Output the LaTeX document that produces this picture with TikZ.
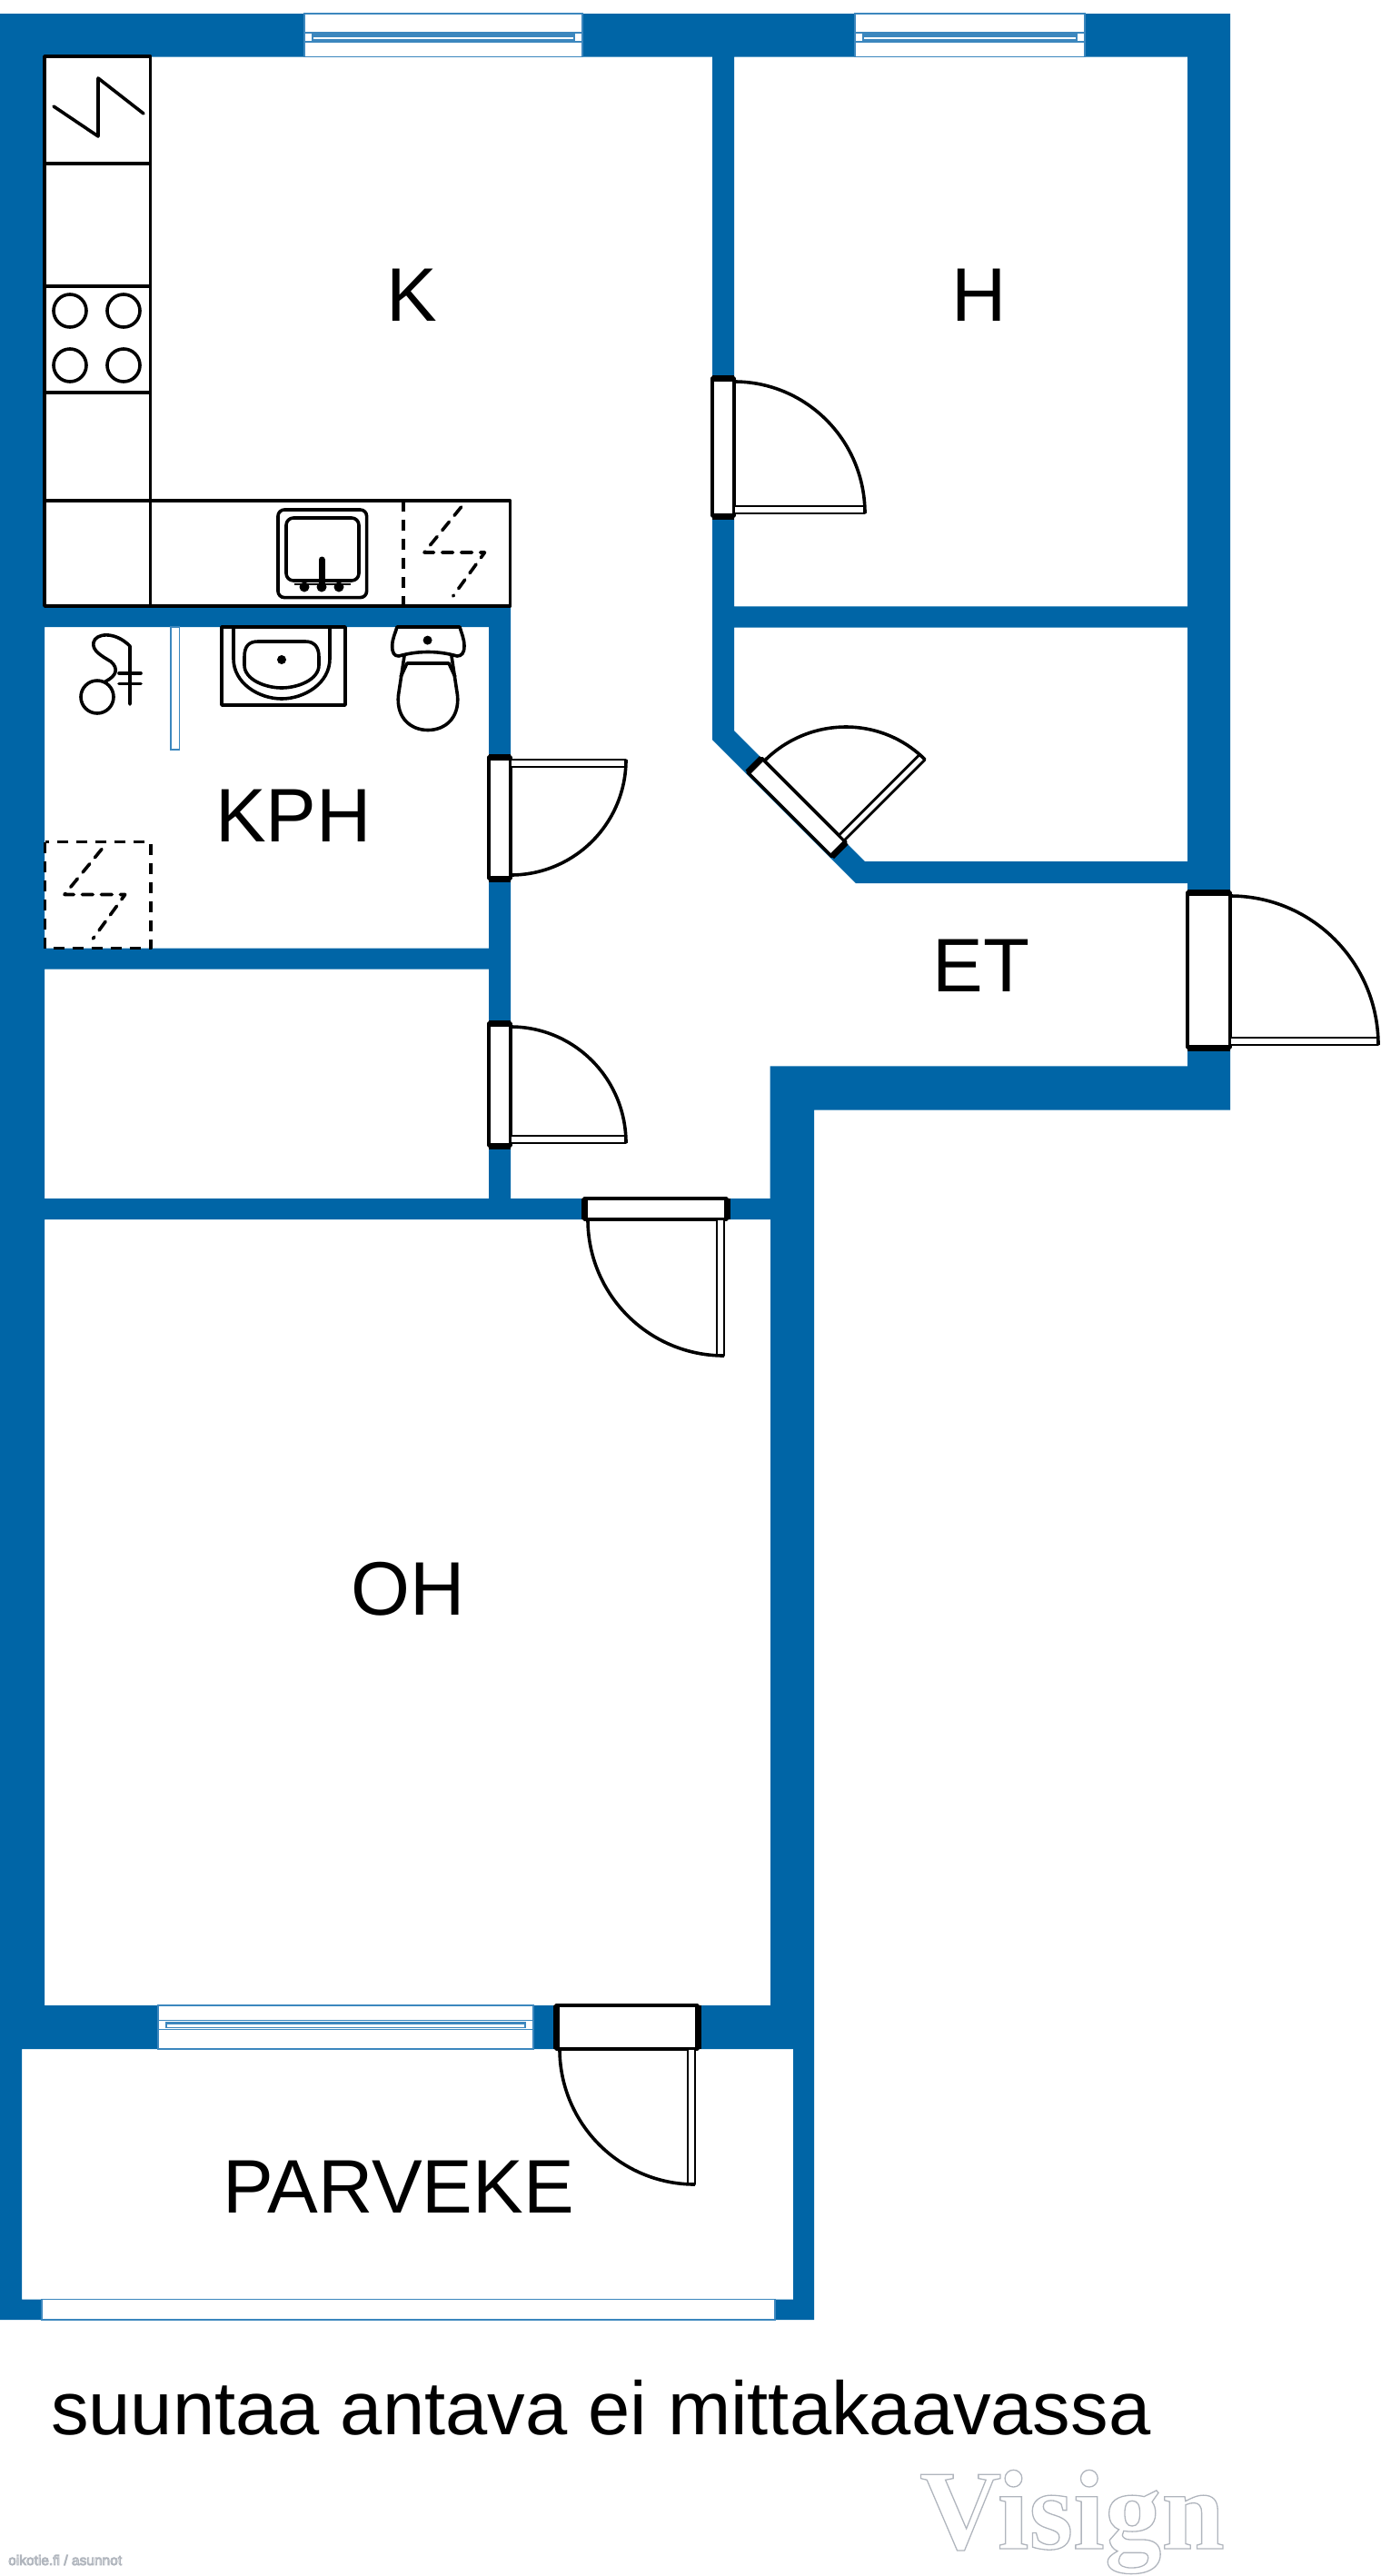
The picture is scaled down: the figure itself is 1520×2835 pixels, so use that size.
\documentclass[tikz,border=0pt]{standalone}
\usepackage{fontspec}
\setmainfont{Liberation Sans}
\newfontfamily\markfont{Liberation Serif}
\definecolor{wallblue}{RGB}{0,101,166}
\definecolor{winblue}{RGB}{60,135,190}
\newcommand{\outlined}[2]{\special{pdf:code q 1 Tr #1 w 0.69 0.71 0.74 RG}#2\special{pdf:code Q}}
\tikzset{
  fixture/.style={draw=black,line width=3.6pt,line join=round},
  dashfix/.style={fixture,line cap=round,dash pattern=on 12pt off 9pt},
  winline/.style={draw=winblue,line width=1.5pt},
  roomlabel/.style={anchor=base,inner sep=0pt,font=\fontsize{83.5}{90}\selectfont},
}
\begin{document}
\begin{tikzpicture}[x=1pt,y=-1pt]
  \useasboundingbox (0,0) rectangle (1520,2835);

  % walls: outline minus rooms
  \fill[wallblue,even odd rule]
    (0,15) -- (1354,15) -- (1354,1221.6) -- (896,1221.6) -- (896,2553) -- (0,2553) -- cycle
    (49,62.5) -- (784,62.5) -- (784,814) -- (942,972) -- (1307,972) -- (1307,1173.4) -- (847.5,1173.4)
      -- (847.5,1319) -- (562,1319) -- (562,667) -- (49,667) -- cycle % K + hall
    (808,62.5) rectangle (1307,667.4) % H
    (808,690.6) -- (1307,690.6) -- (1307,948) -- (952,948) -- (808,804) -- cycle % closet
    (49,690) rectangle (538,1043.5) % KPH
    (49,1066.7) rectangle (538,1319)
    (49,1342) rectangle (848,2207) % OH
    (24,2255) rectangle (873,2530.5); % balcony

  % windows: x1/x2/y1/y2/band centre
  \foreach \wa/\wb/\wc/\wd/\we in {335/641/15/62.5/41, 941/1194/15/62.5/41, 174/587/2207/2255/2228.7} {
    \draw[winline,fill=white] (\wa,\wc) rectangle (\wb,\wd);
    \draw[winline] (\wa,\we-5) rectangle (\wb,\we+5);
    \draw[winline,fill=white] (\wa+9,\we-3) rectangle (\wb-9,\we+3);
    \draw[winblue,line width=2.5pt] (\wa+9,\we-1.5) -- (\wb-9,\we-1.5);
  }
  \draw[winline,fill=white] (46,2530.5) rectangle (853,2553);
  \draw[winline,fill=white] (188,690) rectangle (197.4,825); % curtain

  % kitchen
  \draw[fixture] (49,62) rectangle (165.6,667);
  \foreach \ky in {180,315,432,551} {
    \draw[fixture] (49,\ky) -- (165.6,\ky);
  }
  \draw[fixture] (165.6,551) rectangle (561.6,667);
  \draw[fixture,line cap=round] (59,117) -- (108,150) -- (108,86) -- (158,125);
  \foreach \bx in {77,136} {
    \foreach \by in {342,402} {
      \draw[fixture] (\bx,\by) circle[radius=18];
    }
  }
  \draw[fixture,rounded corners=7pt] (306,561) rectangle (403.6,657.6);
  \draw[fixture,rounded corners=8pt] (315,570) rectangle (395,639);
  \draw[line width=2.5pt] (324,643) -- (386,643);
  \draw[line width=7pt,line cap=round] (354,616) -- (354,645);
  \foreach \dx in {335,354,373} {
    \fill (\dx,646) circle[radius=5.5];
  }
  \draw[dashfix,line cap=butt] (444,551) -- (444,667);
  \draw[dashfix] (507.6,558) -- (467,608) -- (533.5,608) -- (498.7,656);

  % bathroom
  \draw[fixture] (107,767) circle[radius=18];
  \draw[fixture,line cap=round] (116,750) .. controls (128,744) and (131,736) .. (122,728)
    .. controls (112,722) and (101,716) .. (103,707) .. controls (105,697) and (126,694) .. (143,711) -- (143,775);
  \draw[fixture,line cap=round] (131,741) -- (155,741) (131,752.4) -- (155,752.4);
  \draw[fixture] (244,690) rectangle (380,776);
  \draw[fixture] (257,690) -- (257,725) .. controls (257,752) and (285,769) .. (310,769)
    .. controls (335,769) and (363,752) .. (363,725) -- (363,690);
  \draw[fixture] (269,723) .. controls (269,711) and (274,706) .. (284,706) -- (336,706)
    .. controls (346,706) and (351,712) .. (351,723) -- (351,732) .. controls (351,748) and (328,757) .. (310,757)
    .. controls (292,757) and (269,748) .. (269,732) -- cycle;
  \fill (310,726) circle[radius=5];
  \draw[fixture] (437,690) -- (506,690) .. controls (508,697) and (511,703) .. (511,711)
    .. controls (511,719) and (508,722) .. (503,722) .. controls (482,716) and (460,716) .. (439,722)
    .. controls (434,722) and (431.7,719) .. (431.7,711) .. controls (431.7,703) and (435,697) .. (437,690) -- cycle;
  \fill (470.6,704.6) circle[radius=5];
  \draw[fixture] (445,722) -- (438.5,765) .. controls (436,790) and (452,803.5) .. (471,803.5)
    .. controls (490,803.5) and (506,790) .. (503.5,765) -- (497,722);
  \draw[fixture] (441,745) -- (448,730) -- (494,730) -- (501,745);
  \draw[dashfix,line cap=butt] (49.6,926.5) rectangle (166,1043.5);
  \draw[dashfix] (112,934.5) -- (71,984.5) -- (137.7,984.5) -- (102.4,1033);

  % doors: hinge x/y, along vector, swing vector, opening, swing, wall depth
  \foreach \ox/\oy/\ux/\uy/\vx/\vy/\len/\rad/\dep in {
      808/565/0/1/1/0/145/144/24,
      562/836/0/-1/1/0/127/127/24,
      562/1258/0/1/1/0/128/127/24,
      1354/1150/0/1/1/0/164/163/47,
      797/1342/-1/0/0/-1/150/150/23,
      765/2255/-1/0/0/-1/149/149/48,
      929/925/-0.707/0.707/0.707/0.707/124/126/22} {
    \begin{scope}[shift={(\ox,\oy)},x={(\ux pt,\uy pt)},y={(\vx pt,\vy pt)}]
      \draw[fixture,fill=white] (-3,0) -- (\len+4,0) -- (\len+4,-\dep) -- (-3,-\dep) -- cycle; % frame
      \draw[line width=7pt] (-3,0) -- (-3,-\dep) (\len+4,0) -- (\len+4,-\dep);
      \draw[fixture,fill=white,line width=2.8pt] (0,0) -- (8,0) -- (8,\rad) -- (0,\rad) -- cycle; % leaf
      \draw[fixture] (\len,0) .. controls (\len,0.5523*\rad) and (0.5523*\len,\rad) .. (0,\rad);
    \end{scope}
  }

  % labels
  \node[roomlabel] (K) at (453,353) {K};
  \node[roomlabel] (H) at (1078,353) {H};
  \node[roomlabel] (KPH) at (323,926) {KPH};
  \node[roomlabel] (ET) at (1080,1091) {ET};
  \node[roomlabel] (OH) at (449,1777) {OH};
  \node[roomlabel] (PARVEKE) at (438.5,2435) {PARVEKE};
  \node[roomlabel,anchor=base west,font=\fontsize{83.1}{90}\selectfont] (note) at (56,2679.5) {suuntaa antava ei mittakaavassa};
  \node[anchor=base,inner sep=0pt,text=white,font=\markfont\bfseries\fontsize{125}{130}\selectfont] (visign) at (1180,2805) {\outlined{1.3}{Visign}};
  \node[anchor=base west,inner sep=0pt,text=white,font=\fontsize{15.5}{17}\selectfont] (oikotie) at (9,2823) {\outlined{0.9}{oikotie.fi / asunnot}};
\end{tikzpicture}
\end{document}
